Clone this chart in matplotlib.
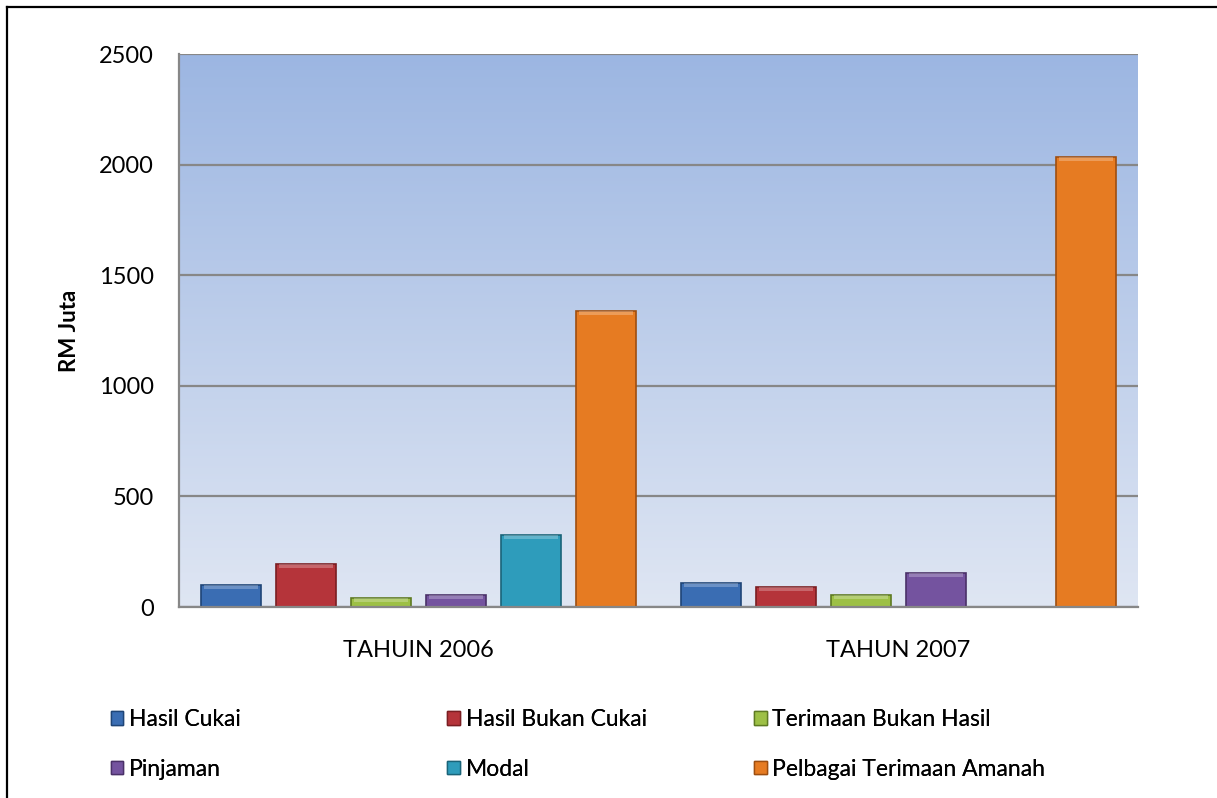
import matplotlib.pyplot as plt
import numpy as np
from matplotlib.patches import Patch
from matplotlib.colors import LinearSegmentedColormap
from matplotlib.lines import Line2D

plt.rcParams['font.family'] = ['Lato', 'DejaVu Sans']

years = ['TAHUIN 2006', 'TAHUN 2007']
series = ['Hasil Cukai', 'Hasil Bukan Cukai', 'Terimaan Bukan Hasil',
          'Pinjaman', 'Modal', 'Pelbagai Terimaan Amanah']
hasil_cukai = [100, 108]
hasil_bukan_cukai = [195, 90]
terimaan_bukan_hasil = [42, 53]
pinjaman = [54, 152]
modal = [325, 0]
pelbagai = [1340, 2035]
values = [hasil_cukai, hasil_bukan_cukai, terimaan_bukan_hasil, pinjaman, modal, pelbagai]

colors = ['#3A6DB3', '#B5343A', '#9DC045', '#74539F', '#2E9CBB', '#E67B22']
edges = ['#1F4577', '#7A1E22', '#5E7A22', '#4A3168', '#1A6479', '#9E4E10']

fig = plt.figure(figsize=(12.17, 7.98), dpi=100)
ax = fig.add_axes([0.1471, 0.2393, 0.7880, 0.6930])

# gradient background of plot area
cmap = LinearSegmentedColormap.from_list('bg', ['#DFE6F3', '#9CB6E2'])
grad = np.linspace(0, 1, 256).reshape(-1, 1)
ax.imshow(grad, cmap=cmap, aspect='auto', origin='lower',
          extent=[-0.5, 1.5, 0, 2500], zorder=0)

x = np.arange(len(years))
slot = 0.1564
width = 0.125
for i, vals in enumerate(values):
    offs = (i - 2.5) * slot
    ax.bar(x + offs, vals, width=width, color=colors[i], edgecolor=edges[i],
           linewidth=1.2, zorder=3)
    # lighter bevel band on top of each bar
    top = np.array(vals, dtype=float)
    band = np.minimum(top, 18)
    ax.bar(x + offs, band, bottom=top - band, width=width * 0.9,
           color='white', alpha=0.25, linewidth=0, zorder=4)

ax.set_xlim(-0.5, 1.5)
ax.set_ylim(0, 2500)
ax.set_yticks([0, 500, 1000, 1500, 2000, 2500])
ax.yaxis.grid(True, color='#878787', linewidth=1.6, zorder=1)
ax.set_axisbelow(True)
for s in ['top', 'right']:
    ax.spines[s].set_visible(False)
for s in ['left', 'bottom']:
    ax.spines[s].set_color('#878787')
    ax.spines[s].set_linewidth(1.6)
    ax.spines[s].set_zorder(5)
ax.tick_params(axis='both', length=0, labelsize=17)
ax.tick_params(axis='y', pad=18)
ax.tick_params(axis='x', pad=24)
ax.set_xticks(x)
ax.set_xticklabels(years)
ax.set_ylabel('RM Juta', fontsize=16, fontweight='bold', labelpad=14)

# legend: three columns placed separately
handles = [Patch(facecolor=colors[i], edgecolor=edges[i], linewidth=1) for i in range(6)]
col_x = [0.0835, 0.360, 0.612]
for c in range(3):
    idx = [c, c + 3]
    leg = fig.legend([handles[j] for j in idx], [series[j] for j in idx],
                     loc='upper left', bbox_to_anchor=(col_x[c], 0.123),
                     bbox_transform=fig.transFigure, frameon=False, fontsize=16.5,
                     handlelength=0.55, handleheight=0.55, handletextpad=0.25,
                     labelspacing=1.25, borderaxespad=0)
    fig.add_artist(leg)

# outer frame lines (top and left)
fig.add_artist(Line2D([7 / 1217, 1], [1 - 7 / 798, 1 - 7 / 798],
                      transform=fig.transFigure, color='black', linewidth=1.6))
fig.add_artist(Line2D([7 / 1217, 7 / 1217], [0, 1 - 7 / 798],
                      transform=fig.transFigure, color='black', linewidth=1.6))

fig.savefig('out.png', dpi=100)
